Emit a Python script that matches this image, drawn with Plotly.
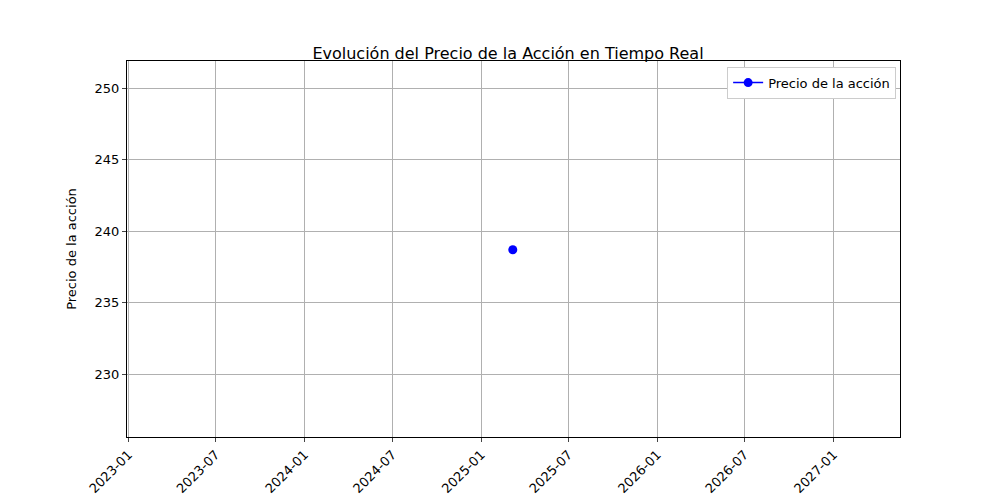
import plotly.graph_objects as go

# data
fechas = ["2025-03-07 12:00:00"]
precios = [238.7]
tick_fechas = ["2023-01-01", "2023-07-01", "2024-01-01", "2024-07-01", "2025-01-01",
               "2025-07-01", "2026-01-01", "2026-07-01", "2027-01-01"]
tick_textos = ["2023-01", "2023-07", "2024-01", "2024-07", "2025-01",
               "2025-07", "2026-01", "2026-07", "2027-01"]

fig = go.Figure()
fig.add_trace(go.Scatter(x=fechas, y=precios, mode="lines+markers", name="Precio de la acción",
                         line=dict(color="blue", width=1.5), marker=dict(color="blue", size=9)))

fig.update_layout(
    width=1000, height=500,
    margin=dict(l=119, r=108, t=53, b=47),
    plot_bgcolor="white", paper_bgcolor="white",
    font=dict(family="DejaVu Sans", size=13, color="black"),
    title=dict(text="Evolución del Precio de la Acción en Tiempo Real", x=0.5, xanchor="center",
               y=0.91, yanchor="middle", font=dict(size=16)),
    legend=dict(x=0.995, y=0.985, xanchor="right", yanchor="top", bordercolor="#cccccc",
                borderwidth=1, bgcolor="white", font=dict(size=13)),
    showlegend=True,
)
fig.update_xaxes(range=["2022-12-29", "2027-05-19"], tickvals=tick_fechas, ticktext=tick_textos,
                 tickangle=-45, showgrid=True, gridcolor="#b0b0b0", showline=True, linecolor="black",
                 mirror=True, ticks="outside", ticklen=4, zeroline=False)
fig.update_yaxes(range=[225.6, 251.9], tickvals=[230, 235, 240, 245, 250], title_text="Precio de la acción",
                 title_font=dict(size=13), showgrid=True, gridcolor="#b0b0b0", showline=True,
                 linecolor="black", mirror=True, ticks="outside", ticklen=4, zeroline=False)

fig.write_html("out.html")
